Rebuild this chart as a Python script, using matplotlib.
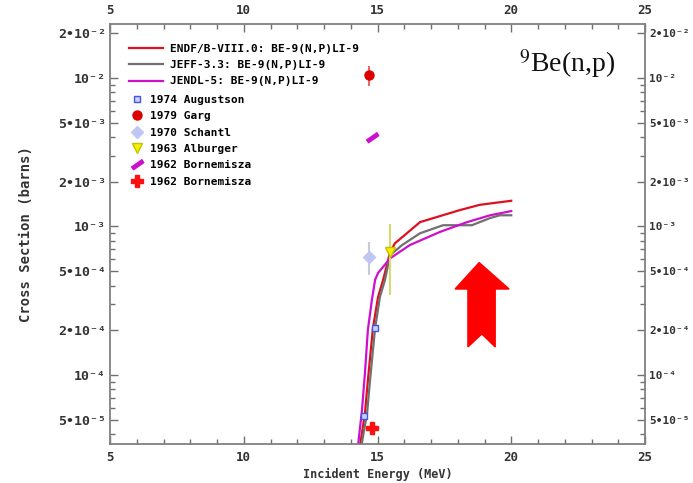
import numpy as np
import matplotlib
matplotlib.use("Agg")
import matplotlib.pyplot as plt
from matplotlib.lines import Line2D
from matplotlib.patches import Polygon
from matplotlib.ticker import LogLocator, FixedLocator, FuncFormatter

# evaluated curves (MeV, barns)
endf_e = [14.33, 14.53, 14.64, 14.83, 15.02, 15.21, 15.47, 15.65, 16.59, 18.08, 18.83, 20.0]
endf_xs = [3.2e-5, 5.5e-5, 9.2e-5, 2.07e-4, 3.35e-4, 4.37e-4, 6.7e-4, 7.7e-4, 1.07e-3, 1.29e-3, 1.40e-3, 1.49e-3]

jeff_e = [14.38, 14.61, 14.72, 14.91, 15.09, 15.28, 15.47, 15.92, 16.59, 17.45, 18.53, 19.21, 19.58, 20.0]
jeff_xs = [3.2e-5, 5.5e-5, 9.2e-5, 2.07e-4, 3.35e-4, 4.37e-4, 6.4e-4, 7.5e-4, 9.0e-4, 1.02e-3, 1.02e-3, 1.14e-3, 1.19e-3, 1.19e-3]

jendl_e = [14.26, 14.42, 14.53, 14.64, 14.79, 14.91, 15.02, 15.47, 16.21, 17.34, 18.35, 19.21, 20.0]
jendl_xs = [3.2e-5, 5.8e-5, 1.03e-4, 2.01e-4, 3.2e-4, 4.37e-4, 4.86e-4, 6.1e-4, 7.5e-4, 9.2e-4, 1.07e-3, 1.19e-3, 1.27e-3]

# experimental points
aug_e = [14.5, 14.9]
aug_xs = [5.3e-5, 2.07e-4]
garg_e = [14.68]
garg_xs = [1.04e-2]
garg_err = [1.6e-3]
schantl_e = [14.68]
schantl_xs = [6.24e-4]
schantl_lo = [1.5e-4]
schantl_hi = [1.6e-4]
alb_e = [15.47]
alb_xs = [6.73e-4]
alb_lo = [3.27e-4]
alb_hi = [3.67e-4]
born1_e = [14.8]
born1_xs = [4.0e-3]
born2_e = [14.79]
born2_xs = [4.4e-5]

line_labels = ["ENDF/B-VIII.0: BE-9(N,P)LI-9", "JEFF-3.3: BE-9(N,P)LI-9", "JENDL-5: BE-9(N,P)LI-9"]
point_labels = ["1974 Augustson", "1979 Garg", "1970 Schantl", "1963 Alburger",
                "1962 Bornemisza", "1962 Bornemisza"]

RED, GRAY, MAG = "#dd1020", "#707070", "#cc10cc"
mono = "DejaVu Sans Mono"
slant = [(3.8, 5.1), (6.1, 1.8), (-3.8, -5.1), (-6.1, -1.8)]

fig = plt.figure(figsize=(6.93, 4.83), dpi=100)
ax = fig.add_axes([110 / 693, 1 - 444 / 483, 535 / 693, 420 / 483])

ax.plot(endf_e, endf_xs, color=RED, lw=1.6)
ax.plot(jeff_e, jeff_xs, color=GRAY, lw=1.6)
ax.plot(jendl_e, jendl_xs, color=MAG, lw=1.6)

ax.plot(aug_e, aug_xs, ls="none", marker="s", ms=5, mfc="#c8d0ff", mec="#4455dd", mew=1)
ax.errorbar(garg_e, garg_xs, yerr=garg_err, fmt="o", ms=6.5, color="#dd0000", ecolor="#ee6666", elinewidth=1.5)
ax.errorbar(schantl_e, schantl_xs, yerr=[schantl_lo, schantl_hi], fmt="D", ms=6.5,
            color="#c0c6f4", ecolor="#c8c8d8", elinewidth=1.5)
ax.errorbar(alb_e, alb_xs, yerr=[alb_lo, alb_hi], fmt="v", ms=7, mfc="#f4f000", mec="#c8c000",
            ecolor="#d8d870", elinewidth=1.5)
ax.plot(born1_e, born1_xs, ls="none", marker=slant, ms=9, color=MAG)
ax.plot(born2_e, born2_xs, ls="none", marker="P", ms=9, color="#ff1010")

ax.set_xlim(5, 25)
ax.set_yscale("log")
ax.set_ylim(3.43e-5, 2.31e-2)

SUP = str.maketrans("-0123456789", "⁻⁰¹²³⁴⁵⁶⁷⁸⁹")


def fmt(v, pos):
    ex = int(np.floor(np.log10(v) + 1e-9))
    mant = int(round(v / 10 ** ex))
    s = "10" + str(ex).translate(SUP)
    return s if mant == 1 else f"{mant}•{s}"


ax.xaxis.set_major_locator(FixedLocator([5, 10, 15, 20, 25]))
ax.xaxis.set_minor_locator(FixedLocator(np.arange(5, 26, 1)))
ax.yaxis.set_major_locator(LogLocator(base=10, subs=(1, 2, 5)))
ax.yaxis.set_minor_locator(LogLocator(base=10, subs=(3, 4, 6, 7, 8, 9)))
ax.yaxis.set_major_formatter(FuncFormatter(fmt))
ax.yaxis.set_minor_formatter(plt.NullFormatter())

ax.tick_params(which="both", direction="in", top=True, right=True, labeltop=True, labelright=True,
               color="#707070", labelcolor="#333333")
ax.tick_params(which="major", length=6, width=1)
ax.tick_params(which="minor", length=3.5, width=1)
ax.tick_params(axis="x", which="major", labelsize=9, pad=5)
ax.tick_params(axis="y", which="major", labelsize=9.5, pad=5)
for lab in ax.get_xticklabels() + ax.get_yticklabels():
    lab.set_family(mono)
    lab.set_weight("bold")
# right-hand labels a bit smaller so they stay inside the figure
for t in ax.yaxis.get_major_ticks():
    t.label2.set_fontsize(8)
    t.label2.set_family(mono)
    t.label2.set_weight("bold")
    t.set_pad(3)
for sp in ax.spines.values():
    sp.set_color("#808080")
    sp.set_linewidth(1.3)

ax.set_xlabel("Incident Energy (MeV)", family=mono, weight="bold", fontsize=8.5, color="#333333", labelpad=3)
ax.set_ylabel("Cross Section (barns)", family=mono, weight="bold", fontsize=10, color="#333333", labelpad=18)

# legends
line_handles = [Line2D([], [], color=c, lw=1.6) for c in (RED, GRAY, MAG)]
leg1 = ax.legend(line_handles, line_labels, loc="upper left", bbox_to_anchor=(0.036, 0.953),
                 frameon=False, borderpad=0, borderaxespad=0, handlelength=3.0, handletextpad=0.7,
                 labelspacing=0.57, prop={"family": mono, "weight": "bold", "size": 8})
ax.add_artist(leg1)
point_handles = [
    Line2D([], [], ls="none", marker="s", ms=5, mfc="#c8d0ff", mec="#4455dd"),
    Line2D([], [], ls="none", marker="o", ms=6.5, color="#dd0000"),
    Line2D([], [], ls="none", marker="D", ms=6.5, color="#c0c6f4"),
    Line2D([], [], ls="none", marker="v", ms=7, mfc="#f4f000", mec="#c8c000"),
    Line2D([], [], ls="none", marker=slant, ms=9, color=MAG),
    Line2D([], [], ls="none", marker="P", ms=9, color="#ff1010"),
]
ax.legend(point_handles, point_labels, loc="upper left", bbox_to_anchor=(0.040, 0.831),
          frameon=False, borderpad=0, borderaxespad=0, handlelength=1.0, handletextpad=0.7,
          labelspacing=0.57, prop={"family": mono, "weight": "bold", "size": 8})

ax.text(0.765, 0.905, r"$^{9}$Be(n,p)", transform=ax.transAxes, family="Liberation Serif",
        math_fontfamily="stix", fontsize=20, color="#111111", va="center", ha="left")

arrow = [(0.690, 0.432), (0.746, 0.369), (0.720, 0.369), (0.720, 0.231), (0.695, 0.262),
         (0.669, 0.231), (0.669, 0.369), (0.645, 0.369)]
ax.add_patch(Polygon(arrow, closed=True, transform=ax.transAxes, color="#ff0000", zorder=5))

fig.savefig("out.png", dpi=100)
